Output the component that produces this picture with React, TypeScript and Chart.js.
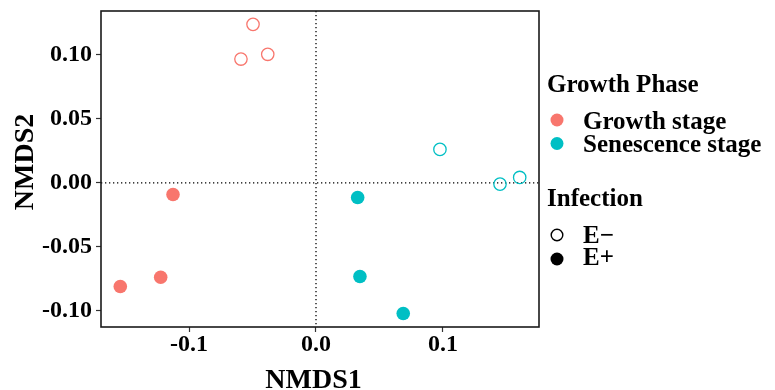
import React, { useEffect, useRef } from "react";
import { Chart, registerables } from "chart.js";

Chart.register(...registerables);

// Data (NMDS coordinates)
const growthEminusX = [-0.0591, -0.0496, -0.038];
const growthEminusY = [0.0966, 0.1237, 0.1003];
const growthEplusX = [-0.1541, -0.1223, -0.1126];
const growthEplusY = [-0.0809, -0.0737, -0.0091];
const senEminusX = [0.0976, 0.1449, 0.1604];
const senEminusY = [0.0261, -0.001, 0.0042];
const senEplusX = [0.0328, 0.0346, 0.0687];
const senEplusY = [-0.0114, -0.0731, -0.102];

const xTickValues = [-0.1, 0, 0.1];
const xTickLabels = ["-0.1", "0.0", "0.1"];
const yTickValues = [-0.1, -0.05, 0, 0.05, 0.1];
const yTickLabels = ["-0.10", "-0.05", "0.00", "0.05", "0.10"];

const phaseLabels = ["Growth stage", "Senescence stage"];
const infectionLabels = ["E\u2212", "E+"];

const RED = "#F8766D";
const CYAN = "#00BFC4";
const FONT = "'Liberation Serif', 'Times New Roman', serif";

const toPts = (xs: number[], ys: number[]) => xs.map((x, i) => ({ x, y: ys[i] }));

export default function App() {
  const ref = useRef<HTMLCanvasElement | null>(null);

  useEffect(() => {
    document.body.style.margin = "0";
    const canvas = ref.current;
    if (!canvas) return;

    const overlay = {
      id: "overlay",
      beforeDatasetsDraw(chart: any) {
        const { ctx, chartArea, scales } = chart;
        const x0 = scales.x.getPixelForValue(0);
        const y0 = scales.y.getPixelForValue(0);
        ctx.save();
        ctx.strokeStyle = "#000";
        ctx.lineWidth = 1.3;
        ctx.setLineDash([1.3, 2.7]);
        ctx.beginPath();
        ctx.moveTo(x0, chartArea.top);
        ctx.lineTo(x0, chartArea.bottom);
        ctx.moveTo(chartArea.left, y0);
        ctx.lineTo(chartArea.right, y0);
        ctx.stroke();
        ctx.restore();
      },
      afterDraw(chart: any) {
        const { ctx, chartArea } = chart;
        ctx.save();
        // frame
        ctx.strokeStyle = "#1a1a1a";
        ctx.lineWidth = 1.6;
        ctx.strokeRect(chartArea.left, chartArea.top, chartArea.right - chartArea.left, chartArea.bottom - chartArea.top);
        // axis titles
        ctx.fillStyle = "#000";
        ctx.font = `bold 28px ${FONT}`;
        ctx.textAlign = "center";
        ctx.textBaseline = "alphabetic";
        ctx.fillText("NMDS1", 313.5, 388);
        ctx.save();
        ctx.translate(33, 162);
        ctx.rotate(-Math.PI / 2);
        ctx.fillText("NMDS2", 0, 0);
        ctx.restore();
        // legend
        ctx.textAlign = "left";
        ctx.font = `bold 25px ${FONT}`;
        ctx.fillText("Growth Phase", 547, 92);
        ctx.fillText("Infection", 547, 206);
        const phaseColors = [RED, CYAN];
        const phaseY = [120, 143.5];
        const phaseBase = [128.5, 151.5];
        phaseLabels.forEach((lab, i) => {
          ctx.beginPath();
          ctx.fillStyle = phaseColors[i];
          ctx.arc(557, phaseY[i], 6.5, 0, Math.PI * 2);
          ctx.fill();
          ctx.fillStyle = "#000";
          ctx.fillText(lab, 583, phaseBase[i]);
        });
        const infY = [235, 259];
        const infBase = [242.5, 265];
        infectionLabels.forEach((lab, i) => {
          ctx.beginPath();
          ctx.arc(557, infY[i], i === 0 ? 5.8 : 6.5, 0, Math.PI * 2);
          if (i === 0) {
            ctx.strokeStyle = "#000";
            ctx.lineWidth = 1.4;
            ctx.stroke();
          } else {
            ctx.fillStyle = "#000";
            ctx.fill();
          }
          ctx.fillStyle = "#000";
          ctx.fillText(lab, 583, infBase[i]);
        });
        ctx.restore();
      },
    };

    const openStyle = (c: string) => ({
      backgroundColor: "rgba(0,0,0,0)",
      borderColor: c,
      pointRadius: 6.2,
      pointBorderWidth: 1.3,
      pointHoverRadius: 6.2,
    });
    const filledStyle = (c: string) => ({
      backgroundColor: c,
      borderColor: c,
      pointRadius: 6.8,
      pointBorderWidth: 0,
      pointHoverRadius: 6.8,
    });

    const chart = new Chart(canvas, {
      type: "scatter",
      data: {
        datasets: [
          { label: "Growth E-", data: toPts(growthEminusX, growthEminusY), ...openStyle(RED) },
          { label: "Growth E+", data: toPts(growthEplusX, growthEplusY), ...filledStyle(RED) },
          { label: "Senescence E-", data: toPts(senEminusX, senEminusY), ...openStyle(CYAN) },
          { label: "Senescence E+", data: toPts(senEplusX, senEplusY), ...filledStyle(CYAN) },
        ],
      },
      options: {
        animation: false,
        responsive: false,
        maintainAspectRatio: false,
        layout: { padding: { left: 0, top: 11, right: 236, bottom: 0 } },
        plugins: { legend: { display: false }, tooltip: { enabled: false } },
        scales: {
          x: {
            type: "linear",
            min: -0.1693,
            max: 0.1756,
            afterFit: (s: any) => { s.height = 63; s.paddingLeft = 0; s.paddingRight = 0; },
            afterBuildTicks: (s: any) => { s.ticks = xTickValues.map((v) => ({ value: v })); },
            ticks: {
              color: "#000",
              padding: 1,
              font: { family: FONT, size: 24, weight: "bold", lineHeight: 1 },
              callback: (v: any) => { const i = xTickValues.findIndex((t) => Math.abs(t - v) < 1e-9); return i >= 0 ? xTickLabels[i] : ""; },
            },
            grid: { display: true, drawOnChartArea: false, drawTicks: true, tickLength: 5, color: "#333", tickWidth: 1.2 },
            border: { display: false },
          },
          y: {
            type: "linear",
            min: -0.1125,
            max: 0.1341,
            afterFit: (s: any) => { s.width = 101; s.paddingTop = 0; s.paddingBottom = 0; },
            afterBuildTicks: (s: any) => { s.ticks = yTickValues.map((v) => ({ value: v })); },
            ticks: {
              color: "#000",
              padding: 4,
              font: { family: FONT, size: 24, weight: "bold", lineHeight: 1 },
              callback: (v: any) => { const i = yTickValues.findIndex((t) => Math.abs(t - v) < 1e-9); return i >= 0 ? yTickLabels[i] : ""; },
            },
            grid: { display: true, drawOnChartArea: false, drawTicks: true, tickLength: 5, color: "#333", tickWidth: 1.2 },
            border: { display: false },
          },
        },
      },
      plugins: [overlay],
    } as any);

    return () => chart.destroy();
  }, []);

  return (
    <div style={{ width: 775, height: 390 }}>
      <canvas ref={ref} width={775} height={390} style={{ display: "block", width: 775, height: 390 }} />
    </div>
  );
}
